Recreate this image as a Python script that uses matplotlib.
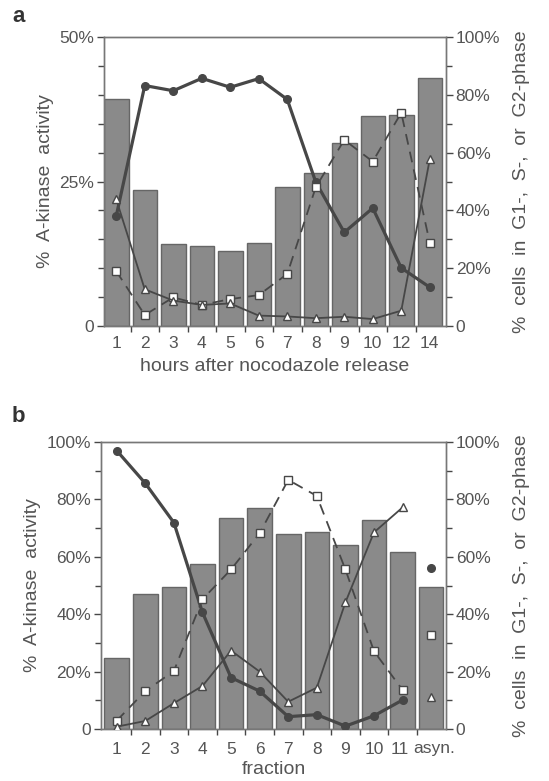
import matplotlib.pyplot as plt
import matplotlib.transforms as mtransforms
import numpy as np

plt.rcParams['font.family'] = ['Liberation Sans', 'DejaVu Sans']

# panel a: hours after nocodazole release
hours = ['1', '2', '3', '4', '5', '6', '7', '8', '9', '10', '12', '14']
kinase_a = [39.3, 23.6, 14.2, 13.9, 13.0, 14.4, 24.1, 26.5, 31.7, 36.3, 36.5, 42.9]
g1_a = [38.1, 83.2, 81.4, 85.7, 82.6, 85.6, 78.4, 49.8, 32.4, 40.8, 20.1, 13.4]
s_a = [19.0, 3.8, 9.9, 7.3, 9.3, 10.7, 18.0, 48.0, 64.4, 56.9, 73.8, 28.8]
g2_a = [43.8, 12.7, 8.8, 7.3, 7.8, 3.6, 3.3, 2.7, 3.2, 2.4, 5.3, 57.7]

# panel b: fractions
fractions = ['1', '2', '3', '4', '5', '6', '7', '8', '9', '10', '11', 'asyn.']
kinase_b = [24.8, 47.0, 49.5, 57.6, 73.4, 77.1, 68.0, 68.7, 64.2, 72.9, 61.6, 49.5]
g1_b = [97.0, 85.6, 71.9, 40.6, 17.9, 13.2, 4.3, 5.0, 1.0, 4.6, 10.1, 56.2]
s_b = [2.9, 13.2, 20.2, 45.2, 55.6, 68.2, 86.8, 81.2, 55.6, 27.1, 13.6, 32.6]
g2_b = [0.8, 2.8, 9.0, 15.0, 27.3, 20.0, 9.5, 14.4, 44.1, 68.5, 77.2, 11.3]

INK = '#474747'
TXT = '#555555'
BAR = '#8a8a8a'
EDGE = '#666666'
FS = 12.5
LFS = 14


def panel(ax, labels, kinase, kmax, g1, s, g2, ymajor, yminor, xlabel, xlim,
          last_alone, tickpad, xlabpad):
    x = np.arange(len(labels))
    ax.bar(x, kinase, width=0.86, color=BAR, edgecolor=EDGE, linewidth=1.0, zorder=1)
    ax.set_ylim(0, kmax)
    ax.set_xlim(*xlim)
    ax.set_yticks(ymajor)
    ax.set_yticklabels(['0' if v == 0 else f'{v:g}%' for v in ymajor])
    ax.set_yticks(yminor, minor=True)

    ax2 = ax.twinx()
    n = len(labels) - 1 if last_alone else len(labels)
    ax2.plot(x[:n], g1[:n], '-', color=INK, lw=2.3, marker='o', ms=5.5,
             mfc=INK, mec=INK, zorder=3)
    ax2.plot(x[:n], s[:n], '--', color=INK, lw=1.3, dashes=(6, 4), marker='s',
             ms=6, mfc='white', mec=INK, mew=1.0, zorder=3)
    ax2.plot(x[:n], g2[:n], '-', color=INK, lw=1.3, marker='^', ms=6,
             mfc='white', mec=INK, mew=1.0, zorder=3)
    if last_alone:
        ax2.plot(x[-1], g1[-1], 'o', color=INK, ms=5.5)
        ax2.plot(x[-1], s[-1], 's', ms=6, mfc='white', mec=INK, mew=1.0)
        ax2.plot(x[-1], g2[-1], '^', ms=6, mfc='white', mec=INK, mew=1.0)
    ax2.set_ylim(0, 100)
    ax2.set_yticks([0, 20, 40, 60, 80, 100])
    ax2.set_yticklabels(['0', '20%', '40%', '60%', '80%', '100%'])
    ax2.set_yticks(np.arange(0, 101, 10), minor=True)
    ax2.set_ylabel('%  cells  in  G1-,  S-,  or  G2-phase', fontsize=LFS, color=TXT,
                   rotation=90, labelpad=9)

    # category labels at centres, ticks between bars
    ax.set_xticks(np.arange(len(labels) - 1) + 0.5)
    ax.set_xticklabels([])
    ax.set_xticks(x, minor=True)
    ax.set_xticklabels(labels, minor=True)
    ax.tick_params(axis='x', which='minor', length=0, pad=tickpad)
    ax.tick_params(axis='x', which='major', length=4)
    ax.set_xlabel(xlabel, fontsize=LFS, color=TXT, labelpad=xlabpad)
    ax.set_ylabel('%  A-kinase  activity', fontsize=LFS, color=TXT, labelpad=4)

    for a in (ax, ax2):
        a.tick_params(which='both', colors=INK, labelcolor=TXT, labelsize=FS,
                      width=1.0)
        a.tick_params(axis='y', which='major', length=5, pad=2)
        a.tick_params(axis='y', which='minor', length=4)
        for sp in a.spines.values():
            sp.set_color('#777777')
            sp.set_linewidth(1.0)
    return ax2


fig = plt.figure(figsize=(5.49, 7.81), dpi=100)
ax_a = fig.add_axes([104 / 549, 1 - 326 / 781, 342 / 549, 289 / 781])
panel(ax_a, hours, kinase_a, 50, g1_a, s_a, g2_a, [0, 25, 50], np.arange(0, 51, 5),
      'hours after nocodazole release', (-0.43, 11.57), False, 7, 5)

ax_b = fig.add_axes([101 / 549, 1 - 729 / 781, 345 / 549, 287 / 781])
panel(ax_b, fractions, kinase_b, 100, g1_b, s_b, g2_b, [0, 20, 40, 60, 80, 100],
      np.arange(0, 101, 10), 'fraction', (-0.55, 11.52), True, 9, 3)

# nudge the crowded last labels of panel b apart
fig.canvas.draw()
lbls = ax_b.get_xticklabels(minor=True)
for lbl, dx in ((lbls[-2], -3), (lbls[-1], 3)):
    off = mtransforms.ScaledTranslation(dx / 100, 0, fig.dpi_scale_trans)
    lbl.set_transform(lbl.get_transform() + off)

fig.text(12 / 549, 1 - 16 / 781, 'a', fontsize=16, fontweight='bold', color='#333333',
         va='center')
fig.text(12 / 549, 1 - 416 / 781, 'b', fontsize=16, fontweight='bold', color='#333333',
         va='center')

fig.savefig('out.png', dpi=100, facecolor='white')
